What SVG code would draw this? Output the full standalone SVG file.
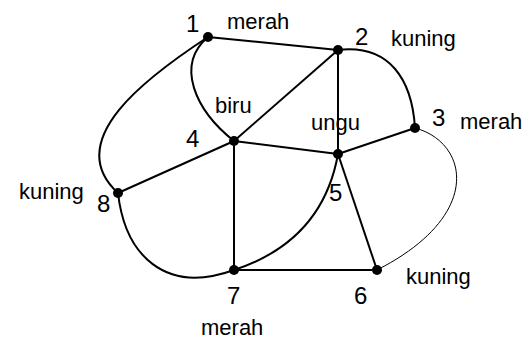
<svg xmlns="http://www.w3.org/2000/svg" width="529" height="343" viewBox="0 0 529 343">
<style>
.e{fill:none;stroke:#000;stroke-width:2}
.thin{stroke-width:1}
.n{fill:#000}
text{font-family:"Liberation Sans",Arial,sans-serif;font-size:22px;fill:#000}
.d{font-size:24px}
</style>
<rect width="529" height="343" fill="#fff"/>
<g id="connectors">
<path class="e" d="M208,37 L338,50"/>
<path class="e" d="M208,37 C175,65 195,110 234,141"/>
<path class="e" d="M208,37 C150,75 60,140 118,193"/>
<path class="e" d="M338,50 L234,141"/>
<path class="e" d="M338,50 L338,154"/>
<path class="e" d="M338,50 C390,44 412,80 415,128"/>
<path class="e" d="M415,128 L338,154"/>
<path class="e thin" d="M415,128 C468,142 485,215 377,270"/>
<path class="e" d="M234,141 L338,154"/>
<path class="e" d="M234,141 L118,193"/>
<path class="e" d="M234,141 L234,270"/>
<path class="e" d="M338,154 C328,210 295,250 234,270"/>
<path class="e" d="M338,154 L377,270"/>
<path class="e" d="M377,270 L234,270"/>
<path class="e" d="M118,193 C125,255 165,295 234,270"/>
</g>
<g id="node1"><circle class="n" cx="208" cy="37" r="5"/><text class="d" x="186" y="32">1</text><text x="227" y="29">merah</text></g>
<g id="node2"><circle class="n" cx="338" cy="50" r="5"/><text class="d" x="355" y="45">2</text><text x="391" y="46">kuning</text></g>
<g id="node3"><circle class="n" cx="415" cy="128" r="5"/><text class="d" x="432" y="126">3</text><text x="460" y="129">merah</text></g>
<g id="node4"><circle class="n" cx="234" cy="141" r="5"/><text class="d" x="186" y="147">4</text><text x="215" y="113">biru</text></g>
<g id="node5"><circle class="n" cx="338" cy="154" r="5"/><text class="d" x="329" y="201">5</text><text x="311" y="130">ungu</text></g>
<g id="node6"><circle class="n" cx="377" cy="270" r="5"/><text class="d" x="354" y="304">6</text><text x="406" y="284">kuning</text></g>
<g id="node7"><circle class="n" cx="234" cy="270" r="5"/><text class="d" x="227" y="304">7</text><text x="201" y="335">merah</text></g>
<g id="node8"><circle class="n" cx="118" cy="193" r="5"/><text class="d" x="97" y="212">8</text><text x="19" y="199">kuning</text></g>
</svg>
